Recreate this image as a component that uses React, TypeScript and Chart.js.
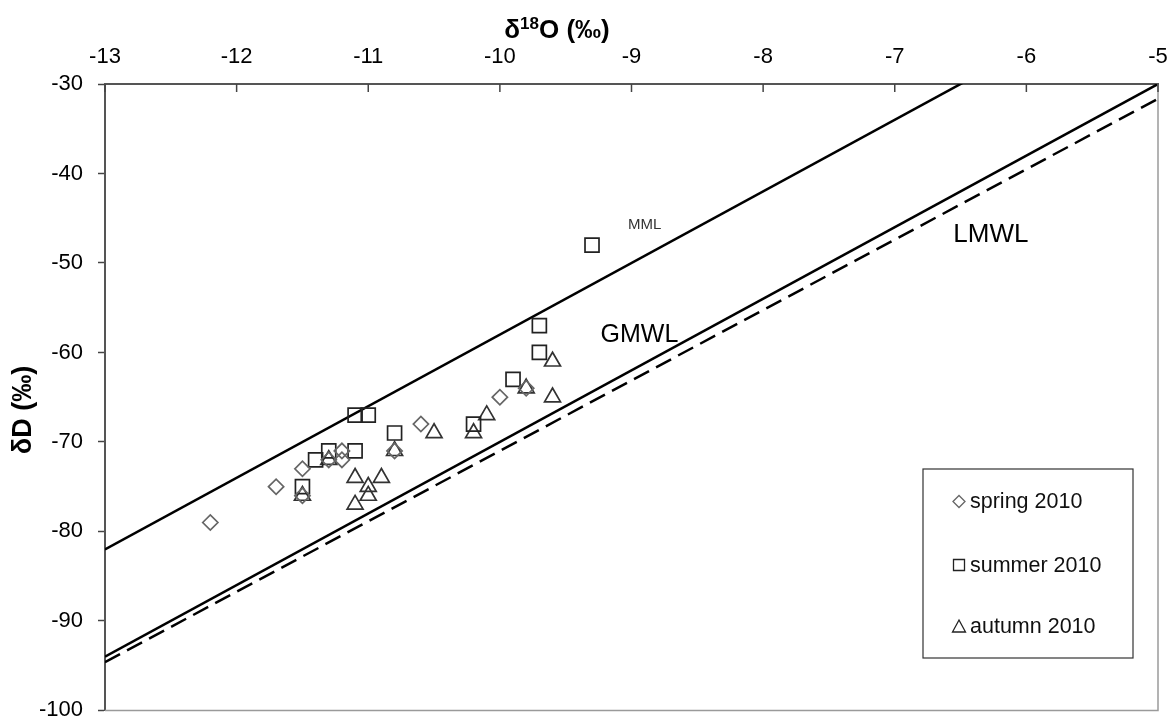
import React, { useEffect, useRef } from 'react';
import { Chart, registerables } from 'chart.js';

Chart.register(...registerables);

// ---- data ----
const springX = [-12.2, -11.7, -11.5, -11.5, -11.3, -11.2, -11.2, -10.8, -10.6, -10.0, -9.8];
const springY = [-79, -75, -73, -76, -72, -71, -72, -71, -68, -65, -64];

const summerX = [-11.5, -11.4, -11.3, -11.1, -11.1, -11.0, -10.8, -10.2, -9.9, -9.7, -9.7, -9.3];
const summerY = [-75, -72, -71, -71, -67, -67, -69, -68, -63, -60, -57, -48];

const autumnX = [-11.5, -11.3, -11.1, -11.1, -11.0, -11.0, -10.9, -10.8, -10.5, -10.2, -10.1, -9.8, -9.6, -9.6];
const autumnY = [-76, -72, -74, -77, -75, -76, -74, -71, -69, -69, -67, -64, -61, -65];

const seriesNames = ['spring 2010', 'summer 2010', 'autumn 2010'];

// water lines: dD = slope * d18O + intercept
const lineNames = ['MML', 'GMWL', 'LMWL'];
const lineSlopes = [8, 8, 7.87];
const lineIntercepts = [22, 10, 7.7];

// axis ticks
const xTickValues = [-13, -12, -11, -10, -9, -8, -7, -6, -5];
const yTickValues = [-30, -40, -50, -60, -70, -80, -90, -100];

const X_MIN = xTickValues[0];
const X_MAX = xTickValues[xTickValues.length - 1];
const Y_MAX = yTickValues[0];
const Y_MIN = yTickValues[yTickValues.length - 1];

// ---- styling / annotation placement ----
const FONT = '"Liberation Sans", Arial, sans-serif';
const lineLabelPos = [
  { x: -8.9, y: -45.7, size: 15, color: '#333' },
  { x: -8.94, y: -58.1, size: 25, color: '#000' },
  { x: -6.27, y: -46.8, size: 26, color: '#000' },
];

const pts = (xs: number[], ys: number[]) => xs.map((v, i) => ({ x: v, y: ys[i] }));

const decorPlugin = {
  id: 'decor',
  afterDraw(chart: any) {
    const { ctx, chartArea: a } = chart;
    const x = chart.scales.x;
    const y = chart.scales.y;
    ctx.save();

    // right & bottom frame
    ctx.strokeStyle = '#9a9a9a';
    ctx.lineWidth = 1.5;
    ctx.beginPath();
    ctx.moveTo(a.right, a.top);
    ctx.lineTo(a.right, a.bottom);
    ctx.lineTo(a.left, a.bottom);
    ctx.stroke();

    // inward tick marks on top x axis
    ctx.strokeStyle = '#444';
    ctx.lineWidth = 1.5;
    xTickValues.forEach((v) => {
      const px = x.getPixelForValue(v);
      ctx.beginPath();
      ctx.moveTo(px, a.top);
      ctx.lineTo(px, a.top + 8);
      ctx.stroke();
    });

    // line labels
    ctx.textAlign = 'center';
    ctx.textBaseline = 'middle';
    lineNames.forEach((n, i) => {
      const p = lineLabelPos[i];
      ctx.font = `${p.size}px ${FONT}`;
      ctx.fillStyle = p.color;
      ctx.fillText(n, x.getPixelForValue(p.x), y.getPixelForValue(p.y));
    });

    // legend box
    const lx = 923, ly = 469, lw = 210, lh = 189;
    ctx.fillStyle = '#fff';
    ctx.fillRect(lx, ly, lw, lh);
    ctx.strokeStyle = '#333';
    ctx.lineWidth = 1.2;
    ctx.strokeRect(lx, ly, lw, lh);
    const rowY = [501.5, 565, 626.5];
    const mx = 959;
    ctx.font = `21.5px ${FONT}`;
    ctx.textAlign = 'left';
    ctx.textBaseline = 'middle';
    seriesNames.forEach((n, i) => {
      const cy = rowY[i];
      ctx.lineWidth = 1.3;
      ctx.beginPath();
      if (i === 0) {
        ctx.strokeStyle = '#666';
        ctx.moveTo(mx - 6, cy);
        ctx.lineTo(mx, cy - 6);
        ctx.lineTo(mx + 6, cy);
        ctx.lineTo(mx, cy + 6);
        ctx.closePath();
      } else if (i === 1) {
        ctx.strokeStyle = '#222';
        ctx.rect(mx - 5.5, cy - 5.5, 11, 11);
      } else {
        ctx.strokeStyle = '#222';
        ctx.moveTo(mx, cy - 6.5);
        ctx.lineTo(mx + 6.5, cy + 5.5);
        ctx.lineTo(mx - 6.5, cy + 5.5);
        ctx.closePath();
      }
      ctx.stroke();
      ctx.fillStyle = '#111';
      ctx.fillText(n, 970, cy + 1);
    });

    // x axis title: δ18O (‰) with superscript
    ctx.fillStyle = '#000';
    ctx.textBaseline = 'alphabetic';
    const big = `bold 26px ${FONT}`;
    const small = `bold 17px ${FONT}`;
    ctx.font = big;
    const w1 = ctx.measureText('δ').width;
    const w3 = ctx.measureText('O (‰)').width;
    ctx.font = small;
    const w2 = ctx.measureText('18').width;
    const total = w1 + w2 + w3;
    let sx = 557 - total / 2;
    const base = 38;
    ctx.font = big;
    ctx.fillText('δ', sx, base);
    sx += w1;
    ctx.font = small;
    ctx.fillText('18', sx, base - 9);
    sx += w2;
    ctx.font = big;
    ctx.fillText('O (‰)', sx, base);

    // y axis title
    ctx.save();
    ctx.translate(24, 410);
    ctx.rotate(-Math.PI / 2);
    ctx.textAlign = 'center';
    ctx.textBaseline = 'middle';
    ctx.font = `bold 27px ${FONT}`;
    ctx.fillText('δD (‰)', 0, 0);
    ctx.restore();

    ctx.restore();
  },
};

export default function App() {
  const ref = useRef<HTMLCanvasElement | null>(null);

  useEffect(() => {
    if (!ref.current) return;
    const lineDatasets = lineNames.map((n, i) => ({
      label: n,
      data: [X_MIN, X_MAX].map((v) => ({ x: v, y: lineSlopes[i] * v + lineIntercepts[i] })),
      showLine: true,
      borderColor: '#000',
      borderWidth: 2.5,
      borderDash: i === 2 ? [17, 8] : [],
      pointRadius: 0,
      pointHoverRadius: 0,
      fill: false,
      clip: 0,
      order: 2,
    }));

    const chart = new Chart(ref.current, {
      type: 'scatter',
      data: {
        datasets: [
          ...lineDatasets,
          {
            label: seriesNames[0],
            data: pts(springX, springY),
            pointStyle: 'rectRot',
            pointRadius: 7.6,
            borderColor: '#666',
            backgroundColor: 'rgba(0,0,0,0)',
            borderWidth: 1.7,
            order: 1,
          },
          {
            label: seriesNames[1],
            data: pts(summerX, summerY),
            pointStyle: 'rect',
            pointRadius: 9.9,
            borderColor: '#222',
            backgroundColor: 'rgba(0,0,0,0)',
            borderWidth: 1.7,
            order: 1,
          },
          {
            label: seriesNames[2],
            data: pts(autumnX, autumnY),
            pointStyle: 'triangle',
            pointRadius: 9.2,
            borderColor: '#333',
            backgroundColor: 'rgba(0,0,0,0)',
            borderWidth: 1.7,
            order: 1,
          },
        ],
      } as any,
      options: {
        animation: false,
        responsive: false,
        events: [],
        layout: { padding: { left: 0, top: 0, right: 15, bottom: 8 } },
        plugins: {
          legend: { display: false },
          tooltip: { enabled: false },
        },
        scales: {
          x: {
            type: 'linear',
            position: 'top',
            min: X_MIN,
            max: X_MAX,
            afterFit: (s: any) => {
              s.height = 84;
              s.paddingLeft = 0;
              s.paddingRight = 0;
            },
            afterBuildTicks: (s: any) => {
              s.ticks = xTickValues.map((v) => ({ value: v }));
            },
            ticks: {
              font: { family: FONT, size: 22 },
              color: '#000',
              padding: 14,
              maxRotation: 0,
            },
            grid: { display: true, drawOnChartArea: false, drawTicks: false },
            border: { display: true, color: '#555', width: 2 },
          },
          y: {
            type: 'linear',
            min: Y_MIN,
            max: Y_MAX,
            afterFit: (s: any) => {
              s.width = 105;
              s.paddingTop = 0;
              s.paddingBottom = 0;
            },
            afterBuildTicks: (s: any) => {
              s.ticks = yTickValues.map((v) => ({ value: v }));
            },
            ticks: {
              font: { family: FONT, size: 22 },
              color: '#000',
              padding: 15,
            },
            grid: {
              display: true,
              drawOnChartArea: false,
              drawTicks: true,
              tickLength: 7,
              tickColor: '#444',
              tickWidth: 1.5,
            },
            border: { display: true, color: '#555', width: 2 },
          },
        },
      } as any,
      plugins: [decorPlugin],
    });
    return () => chart.destroy();
  }, []);

  return (
    <div style={{ position: 'absolute', left: 0, top: 0, width: 1173, height: 722, background: '#fff' }}>
      <canvas ref={ref} width={1173} height={722} style={{ display: 'block' }} />
    </div>
  );
}
